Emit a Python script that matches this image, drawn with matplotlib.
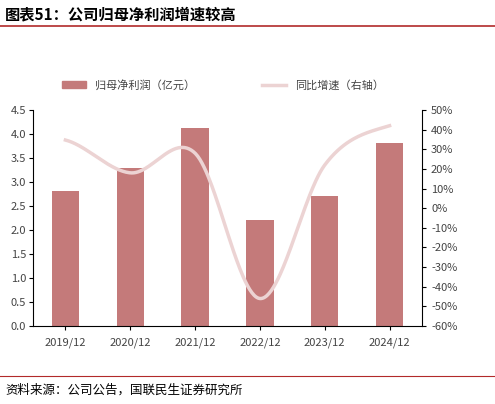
import matplotlib.pyplot as plt
import numpy as np
from matplotlib.lines import Line2D
from matplotlib.patches import Patch

plt.rcParams['font.family'] = ['Noto Sans CJK SC', 'DejaVu Sans']

years = ['2019/12', '2020/12', '2021/12', '2022/12', '2023/12', '2024/12']
profit = [2.81, 3.29, 4.12, 2.21, 2.71, 3.81]
growth = [34.7, 18.0, 28.0, -46.0, 22.0, 42.0]

bar_c = '#c47a7a'
line_c = '#ecd3d3'

fig = plt.figure(figsize=(4.95, 4.04), dpi=100)
ax = fig.add_axes([33/495, 1-326/404, (422-33)/495, (326-110)/404])
x = np.arange(len(years))
ax.bar(x, profit, width=0.42, color=bar_c)
ax.set_ylim(0, 4.5)
ax.set_yticks(np.arange(0, 4.51, 0.5))
ax.set_yticklabels(['%.1f' % v for v in np.arange(0, 4.51, 0.5)], fontsize=8, color='#444444')
ax.tick_params(axis='y', pad=2, length=3)
ax.set_xlim(-0.5, 5.5)
ax.set_xticks(x)
ax.set_xticklabels(years, fontsize=8, color='#444444')
ax.tick_params(axis='x', length=3, pad=5)
for s in ['top', 'right']:
    ax.spines[s].set_visible(False)

ax2 = ax.twinx()
xs = np.linspace(0, 5, 300)
pts = np.array(growth)
def cr(t):
    # Catmull-Rom through the yearly points
    i = min(int(t), 4)
    u = t - i
    p0 = pts[max(i-1, 0)]; p1 = pts[i]; p2 = pts[i+1]; p3 = pts[min(i+2, 5)]
    return 0.5*((2*p1) + (-p0+p2)*u + (2*p0-5*p1+4*p2-p3)*u**2 + (-p0+3*p1-3*p2+p3)*u**3)
ax2.plot(xs, [cr(t) for t in xs], color=line_c, lw=2.5)
ax2.set_ylim(-60, 50)
ax2.set_yticks(range(-60, 51, 10))
ax2.set_yticklabels(['%d%%' % v for v in range(-60, 51, 10)], fontsize=8, color='#444444')
ax2.tick_params(axis='y', length=3)
for s in ['top', 'left', 'bottom']:
    ax2.spines[s].set_visible(False)

fig.legend([Patch(color=bar_c), Line2D([0], [0], color=line_c, lw=2.5)],
           ['归母净利润（亿元）', '同比增速（右轴）'], loc='center', ncol=2,
           bbox_to_anchor=(0.45, 1-85/404), frameon=False, fontsize=8,
           columnspacing=6, handlelength=2.2, labelcolor='#444444')

fig.text(0.01, 0.965, '图表51：公司归母净利润增速较高', fontsize=11, fontweight='bold', va='center')
fig.add_artist(Line2D([0.0, 1.0], [0.935, 0.935], color='#b22a2a', lw=1.2))
fig.add_artist(Line2D([0.0, 1.0], [0.07, 0.07], color='#b22a2a', lw=0.8))
fig.text(0.01, 0.035, '资料来源：公司公告，国联民生证券研究所', fontsize=9, va='center')
fig.savefig('out.png')
